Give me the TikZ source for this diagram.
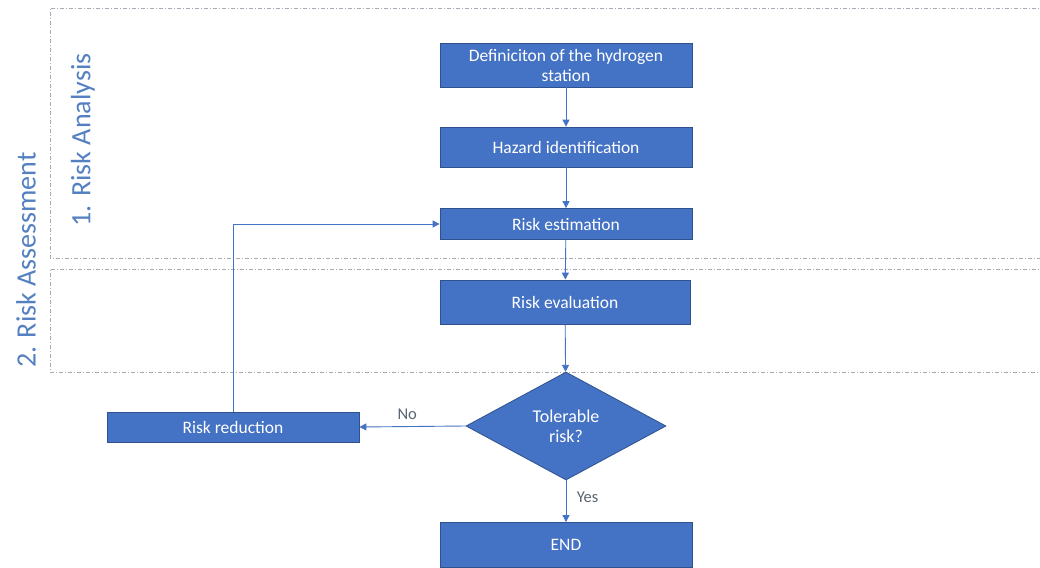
\documentclass[tikz,border=0pt]{standalone}
\usepackage{fontspec}
\setmainfont{Carlito}
\usetikzlibrary{shapes.geometric,arrows.meta}
\definecolor{boxblue}{RGB}{68,114,196}
\definecolor{boxedge}{RGB}{47,82,143}
\definecolor{zonegray}{RGB}{165,172,182}
\definecolor{zonetext}{RGB}{84,128,194}
\definecolor{labelgray}{RGB}{90,100,115}
\tikzset{
  stepbox/.style={draw=boxedge, line width=0.8pt, fill=boxblue, text=white,
    minimum width=252pt, minimum height=#1, inner sep=0pt, align=center,
    font=\fontsize{17.5}{20}\selectfont},
  stepbox/.default=40pt,
  decision/.style={diamond, draw=boxedge, line width=0.8pt, fill=boxblue, text=white,
    minimum width=200pt, minimum height=108pt, inner sep=0pt, align=center,
    font=\fontsize{18}{20}\selectfont},
  flow/.style={draw=boxblue, line width=0.9pt, -{Triangle[length=7pt,width=7pt]}},
  zone/.style={draw=zonegray, line width=0.7pt,
    dash pattern=on 4pt off 2pt on 1pt off 2pt},
  zonelabel/.style={text=zonetext, rotate=90, font=\fontsize{28}{32}\selectfont},
  edgelabel/.style={text=labelgray, font=\fontsize{16.5}{19}\selectfont}
}
\begin{document}
\begin{tikzpicture}[x=1pt,y=-1pt]
\useasboundingbox (0,0) rectangle (1040,567);
\fill[white] (0,0) rectangle (1040,567);

% phase zones, open on the right
\draw[zone] (1045,8) -- (50,8) -- (50,258) -- (1045,258);
\draw[zone] (1045,269) -- (50,269) -- (50,372) -- (1045,372);
\node[zonelabel] (lab1) at (83,140) {1. Risk Analysis};
\node[zonelabel] (lab2) at (26,260) {2. Risk Assessment};

% process steps
\node[stepbox=44pt] (def) at (566,65) {Definiciton of the hydrogen\\station};
\node[stepbox=40pt] (haz) at (566,147) {Hazard identification};
\node[stepbox=31pt] (est) at (566,224) {Risk estimation};
\node[stepbox=44pt, minimum width=250pt] (eval) at (565,302) {Risk evaluation};
\node[decision] (tol) at (566,426) {Tolerable\\risk?};
\node[stepbox=30pt] (red) at (233,427) {Risk reduction};
\node[stepbox=45pt] (end) at (566,545) {END};

% connectors
\draw[flow] (def) -- (haz);
\draw[flow] (haz) -- (est);
\draw[flow] (est) -- (eval);
\draw[flow] (eval) -- (tol);
\draw[flow] (tol.west) -- node[edgelabel, above, pos=0.55, yshift=3pt] (no) {No} (red.east);
\draw[flow] (tol.south) -- node[edgelabel, right, pos=0.4, xshift=7pt] (yes) {Yes} (end.north);
\draw[flow] (red.north) |- (est.west);
\end{tikzpicture}
\end{document}
